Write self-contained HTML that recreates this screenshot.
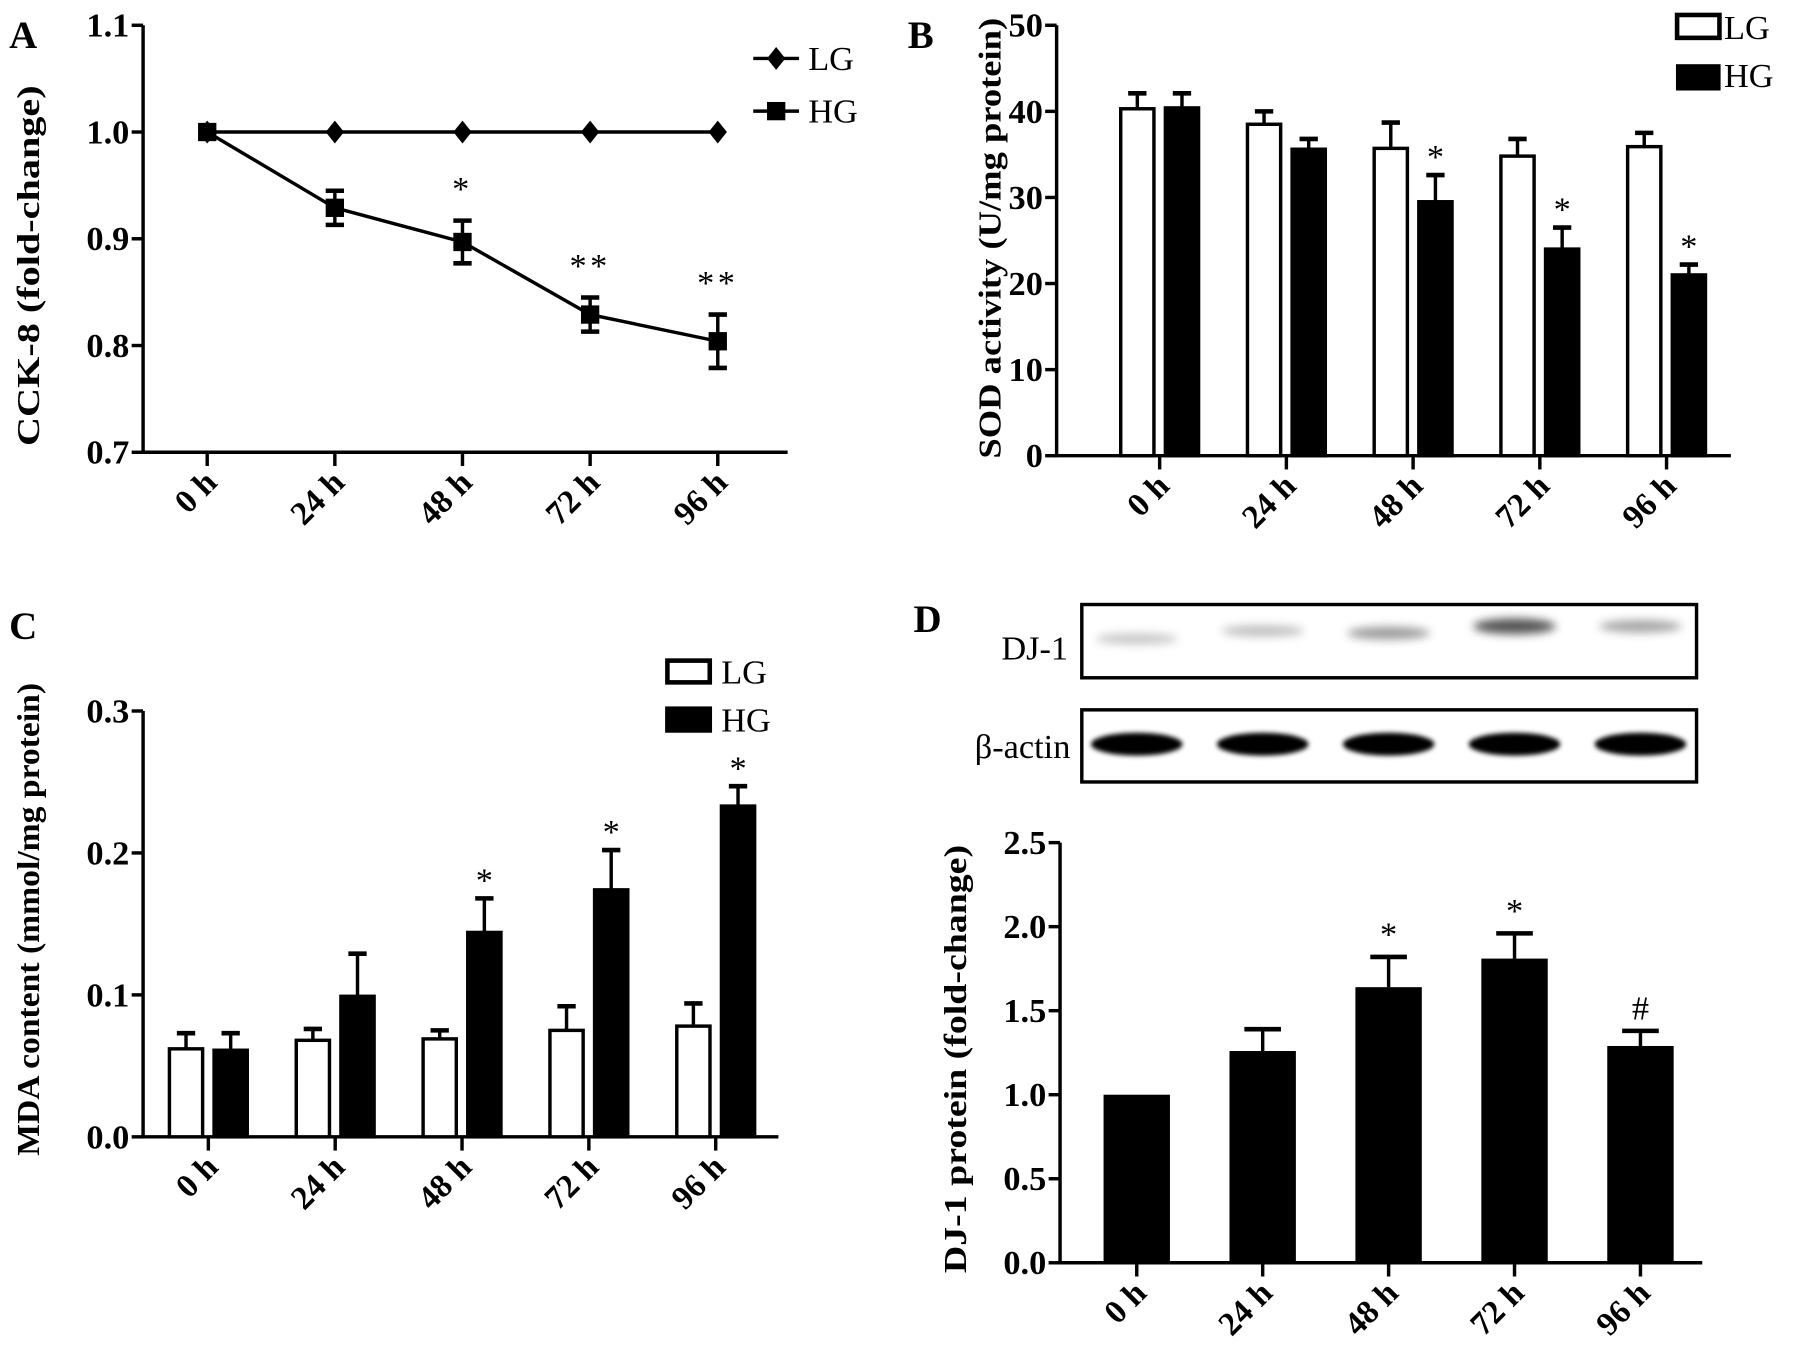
<!DOCTYPE html>
<html><head><meta charset="utf-8"><style>
html,body{margin:0;padding:0;background:#fff;}
svg{display:block;}
text{font-family:"Liberation Serif",serif;fill:#000;}
.b{font-weight:bold;}
</style></head><body>
<svg id="fig" width="1795" height="1351" viewBox="0 0 1568 1180" xmlns="http://www.w3.org/2000/svg">
<defs>
<filter id="blur4" x="-30%" y="-100%" width="160%" height="300%"><feGaussianBlur stdDeviation="4"/></filter>
<filter id="blur2" x="-30%" y="-100%" width="160%" height="300%"><feGaussianBlur stdDeviation="2"/></filter>
</defs>
<g id="root"></g>
</svg>
<script>
const categories = ["0 h","24 h","48 h","72 h","96 h"];
// Panel A (CCK-8)
const cckLG = [1.0,1.0,1.0,1.0,1.0];
const cckHG = [1.0,0.929,0.897,0.829,0.804];
const cckHGErr = [0,0.016,0.02,0.016,0.025];
const cckSig = ["","","*","**","**"];
const cckTicks = ["0.7","0.8","0.9","1.0","1.1"];
// Panel B (SOD)
const sodLG = [40.3,38.5,35.7,34.8,35.9];
const sodLGErr = [1.8,1.5,3.0,2.0,1.6];
const sodHG = [40.4,35.6,29.5,24.0,21.0];
const sodHGErr = [1.7,1.2,3.1,2.5,1.2];
const sodSig = ["","","*","*","*"];
const sodTicks = ["0","10","20","30","40","50"];
// Panel C (MDA)
const mdaLG = [0.062,0.068,0.069,0.075,0.078];
const mdaLGErr = [0.011,0.008,0.006,0.017,0.016];
const mdaHG = [0.061,0.099,0.144,0.174,0.233];
const mdaHGErr = [0.012,0.030,0.024,0.028,0.014];
const mdaSig = ["","","*","*","*"];
const mdaTicks = ["0.0","0.1","0.2","0.3"];
// Panel D (DJ-1)
const djVal = [1.0,1.26,1.64,1.81,1.29];
const djErr = [0,0.13,0.18,0.15,0.09];
const djSig = ["","","*","*","#"];
const djTicks = ["0.0","0.5","1.0","1.5","2.0","2.5"];
const djBand = [0.3,0.35,0.55,0.95,0.5];

const NS="http://www.w3.org/2000/svg";
const root=document.getElementById('root');
function el(tag,attrs,parent,txt){const e=document.createElementNS(NS,tag);for(const k in attrs)e.setAttribute(k,attrs[k]);if(txt!==undefined)e.textContent=txt;(parent||root).appendChild(e);return e;}
function lin(d0,d1,r0,r1){return v=>r0+(v-d0)*(r1-r0)/(d1-d0);}

function axes(g,x0,x1,yTop,yBot,ticks,ys,cx,title,tcx,tcy,tlen,yname){
  const ya=el('line',{x1:x0,y1:yTop,x2:x0,y2:yBot,stroke:'#000','stroke-width':3},g);
  
  
  const xa=el('line',{x1:x0-1.5,y1:yBot,x2:x1,y2:yBot,stroke:'#000','stroke-width':3},g);
  
  
  ticks.forEach(t=>{const y=ys(parseFloat(t));
    el('line',{x1:x0-10,y1:y,x2:x0,y2:y,stroke:'#000','stroke-width':3},g);
    const tx=el('text',{x:x0-12,y:y+10,'text-anchor':'end','font-size':30,class:'b'},g,t);
    
    
  });
  categories.forEach((c,i)=>{const x=cx(i);
    el('line',{x1:x,y1:yBot,x2:x,y2:yBot+12,stroke:'#000','stroke-width':3},g);
    const tx=el('text',{x:x+10,y:yBot+28,'text-anchor':'end','font-size':29,class:'b',transform:`rotate(-45 ${x+10} ${yBot+28})`},g,c);
    
    
  });
  const tt=el('text',{x:tcx,y:tcy,'text-anchor':'middle','font-size':28,class:'b',textLength:tlen,lengthAdjust:'spacingAndGlyphs',transform:`rotate(-90 ${tcx} ${tcy})`},g,title);
  
  
}
function errbar(g,x,yv,ye,capw){el('line',{x1:x,y1:yv,x2:x,y2:ye,stroke:'#000','stroke-width':3},g);el('line',{x1:x-capw,y1:ye,x2:x+capw,y2:ye,stroke:'#000','stroke-width':4},g);}
function panelLabel(t,x,y){const e=el('text',{x:x,y:y,'font-size':34,class:'b'},root,t);}

// ---------- Panel A ----------
(function(){
  const g=el('g',{});
  
  
  const ys=lin(0.7,1.1,395,22); const cx=i=>181+i*111.5;
  axes(g,125,688,22,395,cckTicks,ys,cx,"CCK-8 (fold-change)",34,232,315,'cck8');
  let p=cckLG.map((v,i)=>`${cx(i)},${ys(v)}`).join(' ');
  el('polyline',{points:p,fill:'none',stroke:'#000','stroke-width':3},g);
  p=cckHG.map((v,i)=>`${cx(i)},${ys(v)}`).join(' ');
  el('polyline',{points:p,fill:'none',stroke:'#000','stroke-width':3},g);
  cckLG.forEach((v,i)=>{const x=cx(i),y=ys(v);const m=el('polygon',{points:`${x},${y-10} ${x+8},${y} ${x},${y+10} ${x-8},${y}`},g);});
  cckHG.forEach((v,i)=>{const x=cx(i),y=ys(v);
    if(cckHGErr[i]>0){el('line',{x1:x,y1:ys(v+cckHGErr[i]),x2:x,y2:ys(v-cckHGErr[i]),stroke:'#000','stroke-width':3},g);
      el('line',{x1:x-8,y1:ys(v+cckHGErr[i]),x2:x+8,y2:ys(v+cckHGErr[i]),stroke:'#000','stroke-width':4},g);
      el('line',{x1:x-8,y1:ys(v-cckHGErr[i]),x2:x+8,y2:ys(v-cckHGErr[i]),stroke:'#000','stroke-width':4},g);}
    const m=el('rect',{x:x-8,y:y-8,width:16,height:16},g);
    if(cckSig[i]){const s=el('text',{x:x,y:ys(v+cckHGErr[i])-18,'text-anchor':'middle','font-size':30,'letter-spacing':3},g,cckSig[i]);}
  });
  const l1=el('g',{},g);
  el('line',{x1:658,y1:51,x2:698,y2:51,stroke:'#000','stroke-width':3},l1);
  el('polygon',{points:`678,41 686,51 678,61 670,51`},l1);
  el('text',{x:706,y:61,'font-size':30},l1,'LG');
  const l2=el('g',{},g);
  el('line',{x1:658,y1:97,x2:698,y2:97,stroke:'#000','stroke-width':3},l2);
  el('rect',{x:670,y:89,width:16,height:16},l2);
  el('text',{x:706,y:107,'font-size':30},l2,'HG');
})();
panelLabel('A',8,42);

// grouped bar helper
function grouped(name,lg,lgE,hg,hgE,sig,ticks,dmax,x0,x1,yTop,yBot,c0,step,bw,title,tcx,tcy,tlen){
  const g=el('g',{});
  
  
  const ys=lin(0,dmax,yBot,yTop); const cx=i=>c0+i*step;
  axes(g,x0,x1,yTop,yBot,ticks,ys,cx,title,tcx,tcy,tlen,name);
  categories.forEach((c,i)=>{const x=cx(i);
    const lx=x-bw-5, hx=x+5;
    errbar(g,lx+bw/2,ys(lg[i]),ys(lg[i]+lgE[i]),8);
    const b1=el('rect',{x:lx,y:ys(lg[i]),width:bw,height:yBot-ys(lg[i]),fill:'#fff',stroke:'#000','stroke-width':3},g);
    
    errbar(g,hx+bw/2,ys(hg[i]),ys(hg[i]+hgE[i]),8);
    const b2=el('rect',{x:hx,y:ys(hg[i]),width:bw,height:yBot-ys(hg[i]),fill:'#000',stroke:'#000','stroke-width':3},g);
    
    if(sig[i]){const s=el('text',{x:hx+bw/2,y:ys(hg[i]+hgE[i])-6,'text-anchor':'middle','font-size':30},g,sig[i]);}
  });
  return g;
}
// ---------- Panel B ----------
const gB=grouped('sod-chart',sodLG,sodLGErr,sodHG,sodHGErr,sodSig,sodTicks,50,923,1512,22,398,1013,110.7,29,"SOD activity (U/mg protein)",874,208,385);
(function(){
  const l1=el('g',{},gB);
  el('rect',{x:1465,y:13,width:37,height:20,fill:'#fff',stroke:'#000','stroke-width':4},l1);
  el('text',{x:1506,y:34,'font-size':30},l1,'LG');
  const l2=el('g',{},gB);
  el('rect',{x:1464,y:56,width:39,height:23,fill:'#000'},l2);
  el('text',{x:1506,y:76,'font-size':30},l2,'HG');
})();
panelLabel('B',793,42);

// ---------- Panel C ----------
const gC=grouped('mda-chart',mdaLG,mdaLGErr,mdaHG,mdaHGErr,mdaSig,mdaTicks,0.3,125,680,621,993,182,110.8,29,"MDA content (mmol/mg protein)",34,803,413);
(function(){
  const l1=el('g',{},gC);
  el('rect',{x:583,y:577,width:37,height:19,fill:'#fff',stroke:'#000','stroke-width':4},l1);
  el('text',{x:630,y:597,'font-size':30},l1,'LG');
  const l2=el('g',{},gC);
  el('rect',{x:581,y:617,width:41,height:23,fill:'#000'},l2);
  el('text',{x:630,y:639,'font-size':30},l2,'HG');
})();
panelLabel('C',8,558);

// ---------- Panel D ----------
(function(){
  const g=el('g',{});
  
  
  const ys=lin(0,2.5,1103,736); const cx=i=>993+i*110; const bw=58;
  axes(g,926,1487,736,1103,djTicks,ys,cx,"DJ-1 protein (fold-change)",844,925,374,'dj1');
  djVal.forEach((v,i)=>{const x=cx(i);
    if(djErr[i]>0) errbar(g,x,ys(v),ys(v+djErr[i]),16);
    const b=el('rect',{x:x-bw/2,y:ys(v),width:bw,height:1103-ys(v),fill:'#000'},g);
    
    if(djSig[i]){const s=el('text',{x:x,y:ys(v+djErr[i])-10,'text-anchor':'middle','font-size':30},g,djSig[i]);}
  });
  // western blot
  const wb=el('g',{});
  
  
  el('rect',{x:945,y:528,width:537,height:64,fill:'#fff',stroke:'#000','stroke-width':3},wb);
  el('rect',{x:945,y:620,width:537,height:63,fill:'#fff',stroke:'#000','stroke-width':3},wb);
  const t1=el('text',{x:933,y:576,'text-anchor':'end','font-size':30},wb,'DJ-1');
  const t2=el('text',{x:935,y:662,'text-anchor':'end','font-size':30},wb,'β-actin');
  const bandY=[558,551,553,547,547];
  djBand.forEach((a,i)=>{const x=cx(i);
    const e=el('ellipse',{cx:x,cy:bandY[i],rx:36,ry:4+a*3,fill:'#000','fill-opacity':a*0.7,filter:'url(#blur4)'},wb);
    
    const e2=el('ellipse',{cx:x,cy:650,rx:40,ry:10,fill:'#000',filter:'url(#blur2)'},wb);
    
  });
})();
panelLabel('D',798,552);
</script>
</body></html>
